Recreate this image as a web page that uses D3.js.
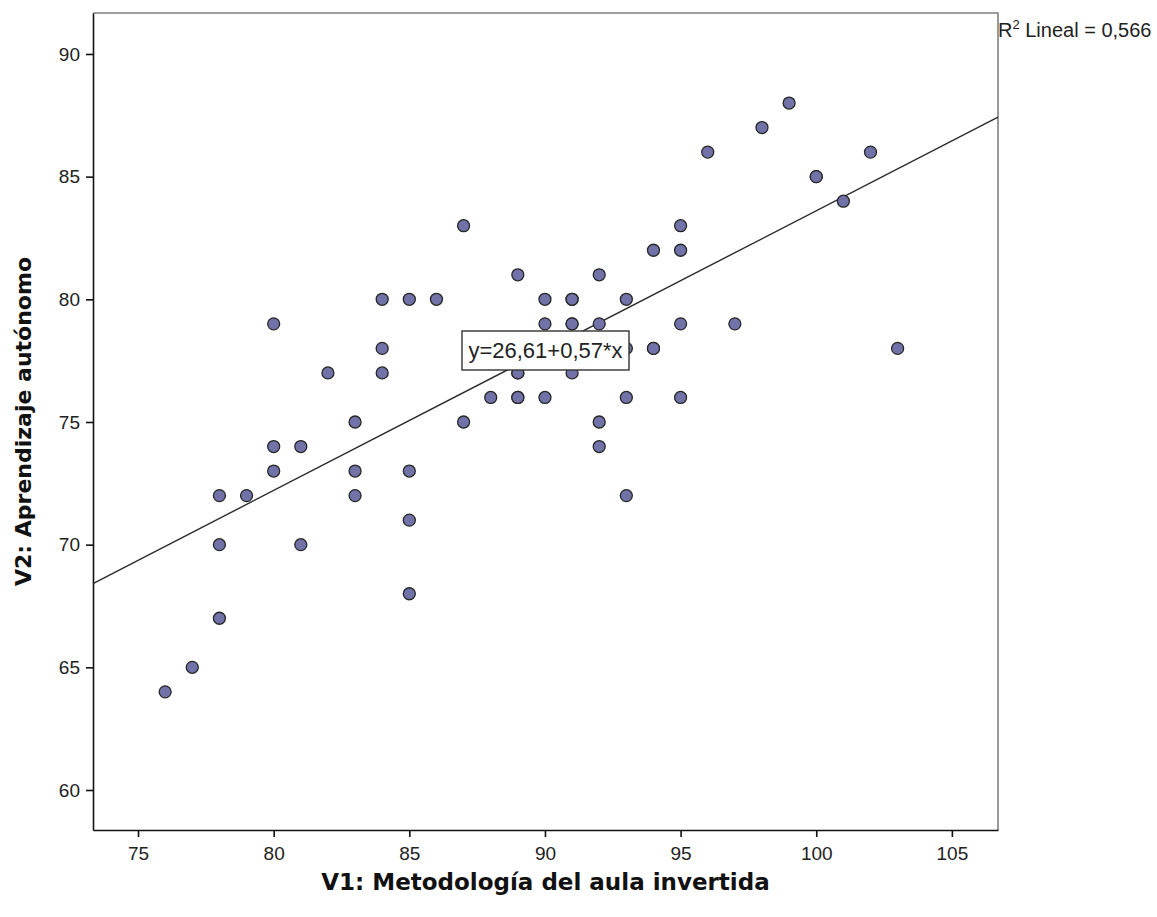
<!DOCTYPE html>
<html>
<head>
<meta charset="utf-8">
<script src="https://cdn.jsdelivr.net/npm/d3@7"></script>
<style>
  body { margin: 0; background: #fff; }
  svg { display: block; }
</style>
</head>
<body>
<div id="chart"></div>
<script>
// V1 scores (x) and V2 scores (y)
const v1 = [76, 77, 78, 78, 78, 79, 80, 80, 80, 81, 81, 82, 83, 83, 83,
            84, 84, 84, 85, 85, 85, 85, 86, 87, 87, 88, 89, 89, 89, 89, 89,
            90, 90, 90, 91, 91, 91, 91, 91, 92, 92, 92, 92, 93, 93, 93, 93,
            94, 94, 94, 95, 95, 95, 95, 96, 97, 98, 99, 100, 100, 101, 102, 103];
const v2 = [64, 65, 67, 70, 72, 72, 79, 74, 73, 74, 70, 77, 75, 73, 72,
            80, 78, 77, 80, 73, 71, 68, 80, 83, 75, 76, 81, 77, 76, 76, 77,
            80, 79, 76, 80, 80, 79, 79, 77, 81, 79, 75, 74, 80, 78, 76, 72,
            82, 78, 78, 83, 82, 79, 76, 86, 79, 87, 88, 85, 85, 84, 86, 78];

const xTicks = [75, 80, 85, 90, 95, 100, 105];
const yTicks = [60, 65, 70, 75, 80, 85, 90];

// fit line reported in the chart
const intercept = 26.61;
const slope = 0.57;
const fitLabel = "y=26,61+0,57*x";
const r2Value = "0,566";

const width = 1157, height = 917;
const plotL = 93, plotR = 998, plotT = 13, plotB = 830;

const svg = d3.select("#chart").append("svg")
    .attr("width", width).attr("height", height);

const x = d3.scaleLinear().domain([73.34, 106.7]).range([plotL, plotR]);
const y = d3.scaleLinear().domain([58.37, 91.67]).range([plotB, plotT]);

// grey frame on top and right
svg.append("path")
    .attr("d", `M${plotL},${plotT}H${plotR}V${plotB}`)
    .attr("fill", "none")
    .attr("stroke", "#808080")
    .attr("stroke-width", 1.6);

const xAxis = svg.append("g")
    .attr("transform", `translate(0,${plotB})`)
    .call(d3.axisBottom(x).tickValues(xTicks).tickSize(7).tickSizeOuter(0).tickPadding(10));
const yAxis = svg.append("g")
    .attr("transform", `translate(${plotL},0)`)
    .call(d3.axisLeft(y).tickValues(yTicks).tickSize(7).tickSizeOuter(0).tickPadding(6));

[xAxis, yAxis].forEach(g => {
    g.select(".domain").attr("stroke", "#111").attr("stroke-width", 1.6);
    g.selectAll(".tick line").attr("stroke", "#111").attr("stroke-width", 1.6);
    g.selectAll(".tick text")
        .attr("fill", "#222")
        .style("font-family", "'Liberation Sans', Arial, sans-serif")
        .style("font-size", "19px");
});

// regression line across the plot
const xd = x.domain();
svg.append("line")
    .attr("x1", x(xd[0])).attr("y1", y(intercept + slope * xd[0]))
    .attr("x2", x(xd[1])).attr("y2", y(intercept + slope * xd[1]))
    .attr("stroke", "#2b2b2b")
    .attr("stroke-width", 1.4);

// points
svg.append("g").selectAll("circle")
    .data(v1.map((d, i) => [d, v2[i]]))
    .join("circle")
    .attr("cx", d => x(d[0]))
    .attr("cy", d => y(d[1]))
    .attr("r", 6)
    .attr("fill", "#7173a8")
    .attr("stroke", "#262626")
    .attr("stroke-width", 1.3);

// equation box
const eq = svg.append("g").attr("transform", "translate(462,331)");
eq.append("rect")
    .attr("width", 167).attr("height", 39)
    .attr("fill", "#fff")
    .attr("stroke", "#333")
    .attr("stroke-width", 1.4);
eq.append("text")
    .attr("x", 83.5).attr("y", 27)
    .attr("text-anchor", "middle")
    .style("font-family", "'Liberation Sans', Arial, sans-serif")
    .style("font-size", "22px")
    .attr("fill", "#222")
    .text(fitLabel);

// R squared note
const r2 = svg.append("text")
    .attr("x", plotR).attr("y", 37)
    .style("font-family", "'Liberation Sans', Arial, sans-serif")
    .style("font-size", "20px")
    .attr("fill", "#222");
r2.append("tspan").text("R");
r2.append("tspan").attr("dy", -8).style("font-size", "13px").text("2");
r2.append("tspan").attr("dy", 8).text(" Lineal = " + r2Value);

// axis titles
svg.append("text")
    .attr("x", (plotL + plotR) / 2).attr("y", 890)
    .attr("text-anchor", "middle")
    .style("font-family", "'DejaVu Sans', Verdana, sans-serif")
    .style("font-weight", "bold")
    .style("font-size", "23px")
    .attr("fill", "#111")
    .text("V1: Metodología del aula invertida");

svg.append("text")
    .attr("transform", `translate(31,${(plotT + plotB) / 2}) rotate(-90)`)
    .attr("text-anchor", "middle")
    .style("font-family", "'DejaVu Sans', Verdana, sans-serif")
    .style("font-weight", "bold")
    .style("font-size", "22px")
    .attr("fill", "#111")
    .text("V2: Aprendizaje autónomo");
</script>
</body>
</html>
